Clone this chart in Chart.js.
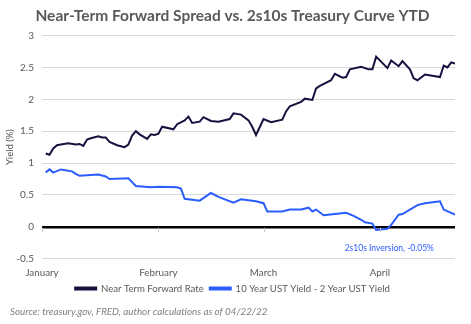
<!DOCTYPE html>
<html>
<head>
<meta charset="utf-8">
<script src="https://cdn.jsdelivr.net/npm/chart.js@4.4.1/dist/chart.umd.min.js"></script>
<style>
  html, body { margin: 0; padding: 0; background: #fff; }
  #wrap { width: 471px; height: 324px; }
</style>
</head>
<body>
<div id="wrap"><canvas id="myChart" width="471" height="324"></canvas></div>
<script>
// month ticks (day of year)
const monthDays = [1, 32, 60, 91];
const monthLabels = ['January', 'February', 'March', 'April'];

// Near Term Forward Rate
const nearDays = [2, 3, 4, 5, 6, 8, 10, 11, 12, 13, 14, 16, 17, 18, 19, 21, 23, 24, 25, 26, 27, 29, 30, 31, 32, 33, 36, 37, 39, 40, 41, 43, 44, 46, 48, 51, 52, 54, 56, 57, 58, 60, 62, 65, 66, 67, 70, 71, 73, 74, 75, 78, 79, 81, 82, 83, 86, 88, 89, 90, 93, 94, 96, 97, 99, 100, 101, 103, 107, 108, 109, 110, 111];
const nearRate = [1.15, 1.13, 1.23, 1.28, 1.29, 1.31, 1.29, 1.30, 1.27, 1.37, 1.39, 1.42, 1.40, 1.40, 1.33, 1.28, 1.25, 1.29, 1.43, 1.50, 1.45, 1.38, 1.45, 1.44, 1.46, 1.57, 1.53, 1.61, 1.67, 1.73, 1.63, 1.65, 1.72, 1.66, 1.65, 1.69, 1.78, 1.76, 1.67, 1.57, 1.44, 1.69, 1.64, 1.68, 1.81, 1.89, 1.96, 2.01, 1.99, 2.17, 2.21, 2.30, 2.40, 2.34, 2.35, 2.47, 2.51, 2.47, 2.47, 2.67, 2.49, 2.61, 2.52, 2.60, 2.47, 2.33, 2.30, 2.39, 2.35, 2.53, 2.50, 2.58, 2.56];

// 10 Year UST Yield - 2 Year UST Yield
const spreadDays = [2, 3, 4, 6, 9, 10, 11, 13, 16, 18, 19, 24, 25, 26, 30, 32, 37, 38, 39, 43, 46, 48, 52, 54, 58, 60, 61, 65, 67, 70, 72, 73, 74, 76, 79, 82, 84, 86, 87, 89, 90, 93, 94, 96, 97, 101, 103, 107, 108, 111];
const spreadVals = [0.85, 0.90, 0.85, 0.90, 0.87, 0.83, 0.80, 0.81, 0.82, 0.79, 0.75, 0.76, 0.70, 0.64, 0.62, 0.63, 0.62, 0.60, 0.44, 0.41, 0.53, 0.47, 0.38, 0.43, 0.40, 0.37, 0.24, 0.24, 0.27, 0.27, 0.30, 0.24, 0.27, 0.18, 0.20, 0.22, 0.17, 0.11, 0.07, 0.05, -0.05, -0.03, 0.03, 0.19, 0.20, 0.34, 0.37, 0.40, 0.27, 0.19];

// y axis ticks
const yTicks = [-0.5, 0, 0.5, 1, 1.5, 2, 2.5, 3];

const inversionNote = '2s10s Inversion, -0.05%';
const sourceNote = 'Source: treasury.gov, FRED, author calculations as of 04/22/22';

const grey = '#595959';
const navy = '#17113f';
const blue = '#2b5cff';
const fontFam = "Lato, 'Open Sans', sans-serif";

const pts = (xs, ys) => xs.map((d, i) => ({ x: d, y: ys[i] }));

// note text + small tick marks under the zero line
const extras = {
  id: 'extras',
  afterDatasetsDraw(chart) {
    const { ctx, scales: { x, y } } = chart;
    const y0 = y.getPixelForValue(0);
    ctx.save();
    ctx.strokeStyle = '#bfbfbf';
    ctx.lineWidth = 1;
    monthDays.forEach(d => {
      const px = Math.round(x.getPixelForValue(d)) + 0.5;
      ctx.beginPath();
      ctx.moveTo(px, y0 + 1);
      ctx.lineTo(px, y0 + 5);
      ctx.stroke();
    });
    ctx.fillStyle = blue;
    ctx.font = '8.5px ' + fontFam;
    ctx.textAlign = 'center';
    ctx.textBaseline = 'middle';
    ctx.fillText(inversionNote, x.getPixelForValue(93.5), y.getPixelForValue(-0.34));
    ctx.restore();
  }
};

const ctx = document.getElementById('myChart').getContext('2d');

new Chart(ctx, {
  type: 'line',
  data: {
    datasets: [{
      label: 'Near Term Forward Rate',
      data: pts(nearDays, nearRate),
      borderColor: navy,
      backgroundColor: navy,
      borderWidth: 2,
      pointRadius: 0,
      tension: 0
    }, {
      label: '10 Year UST Yield - 2 Year UST Yield',
      data: pts(spreadDays, spreadVals),
      borderColor: blue,
      backgroundColor: blue,
      borderWidth: 2,
      pointRadius: 0,
      tension: 0
    }]
  },
  options: {
    responsive: false,
    animation: false,
    layout: { padding: { left: 10, right: 16, top: 0, bottom: 4 } },
    plugins: {
      title: {
        display: true,
        text: 'Near-Term Forward Spread vs. 2s10s Treasury Curve YTD',
        color: grey,
        font: { family: fontFam, size: 15.5, weight: 'bold' },
        padding: { top: 7, bottom: 10 }
      },
      subtitle: {
        display: true,
        position: 'bottom',
        align: 'start',
        text: sourceNote,
        color: '#7f7f7f',
        font: { family: fontFam, size: 9.8, style: 'italic' },
        padding: { top: 3, bottom: 2 }
      },
      legend: {
        position: 'bottom',
        labels: {
          color: grey,
          font: { family: fontFam, size: 9.6 },
          boxWidth: 21,
          boxHeight: 2,
          padding: 6
        }
      },
      tooltip: { enabled: false }
    },
    scales: {
      x: {
        type: 'linear',
        min: 1,
        max: 111,
        afterBuildTicks: s => { s.ticks = monthDays.map(v => ({ value: v })); },
        afterFit: s => { s.height = 19; },
        ticks: {
          color: grey,
          font: { family: fontFam, size: 9.8 },
          maxRotation: 0,
          padding: 8,
          callback: v => monthLabels[monthDays.indexOf(v)]
        },
        grid: { display: false, drawTicks: false },
        border: { display: false }
      },
      y: {
        min: -0.5,
        max: 3,
        afterBuildTicks: s => { s.ticks = yTicks.map(v => ({ value: v })); },
        afterFit: s => { s.width = 32; },
        title: {
          display: true,
          text: 'Yield (%)',
          color: grey,
          font: { family: fontFam, size: 9.5 },
          padding: { top: -6, bottom: 0 }
        },
        ticks: {
          color: grey,
          font: { family: fontFam, size: 10 },
          padding: 8,
          callback: v => String(v)
        },
        grid: {
          drawTicks: false,
          color: c => c.tick.value === 0 ? '#000000' : '#d9d9d9',
          lineWidth: c => c.tick.value === 0 ? 2.5 : 1
        },
        border: { display: false }
      }
    }
  },
  plugins: [extras]
});
</script>
</body>
</html>
